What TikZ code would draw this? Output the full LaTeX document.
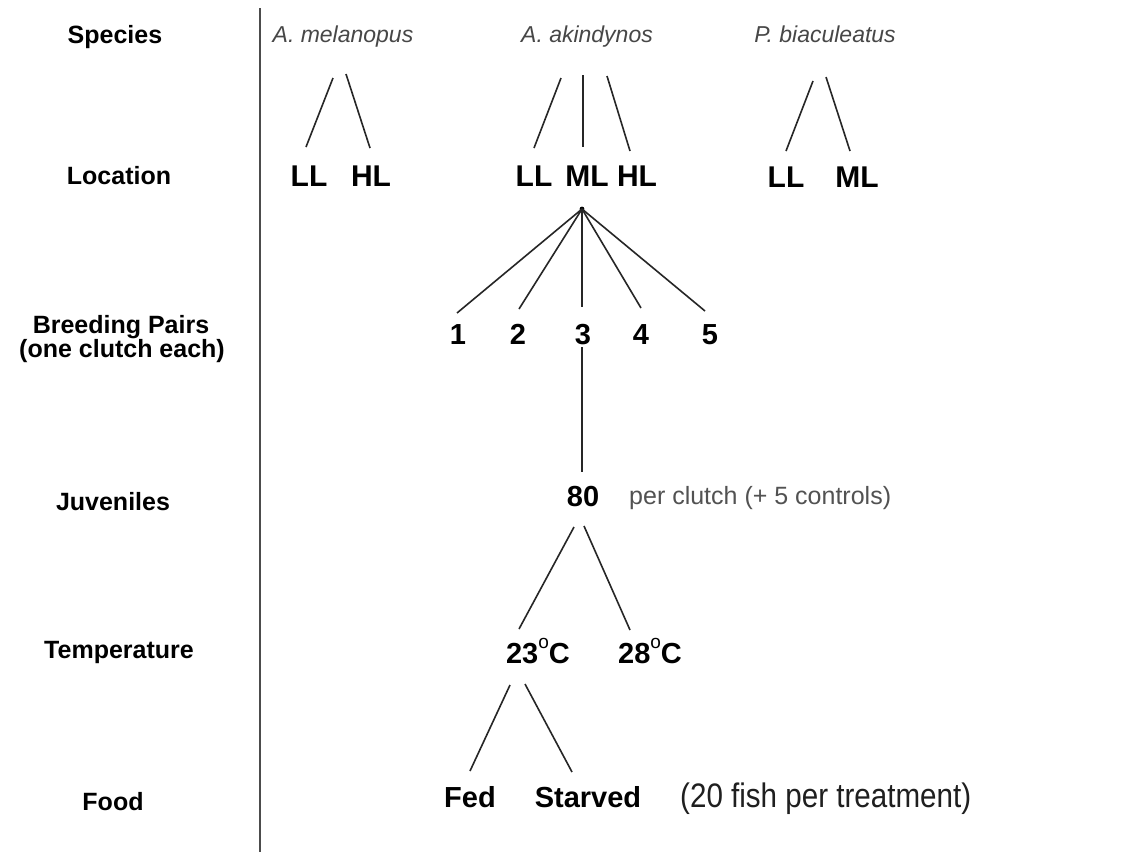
\documentclass[tikz,border=0pt]{standalone}
\usepackage{fontspec}
\setmainfont{Liberation Sans}
\newfontfamily\narrowfont[FakeStretch=0.87]{Liberation Sans}
\newcommand{\degring}{\raisebox{15pt}{\fontsize{19}{19}\selectfont\mdseries o}}
\begin{document}
\begin{tikzpicture}[x=1pt,y=-1pt,
  lab/.style={font=\bfseries\fontsize{25}{29}\selectfont, anchor=base, inner sep=0pt},
  sp/.style={font=\itshape\fontsize{23}{27}\selectfont, text=black!72, anchor=base, inner sep=0pt},
  loc/.style={font=\bfseries\fontsize{30}{34}\selectfont, anchor=base, inner sep=0pt},
  val/.style={font=\bfseries\fontsize{29}{33}\selectfont, anchor=base, inner sep=0pt},
  note/.style={font=\fontsize{25}{29}\selectfont, text=black!68, anchor=base west, inner sep=0pt},
  br/.style={line width=1.6pt, draw=black!85},
  divider/.style={line width=1.7pt, draw=black!70}]
\useasboundingbox[fill=white] (0,0) rectangle (1123,852);

% divider
\coordinate (vtop) at (260,8);
\coordinate (vbot) at (260,852);
\draw[divider] (vtop) -- (vbot);

% row headings
\node[lab] (hSp)   at (115,43)  {Species};
\node[lab] (hLoc)  at (119,184) {Location};
\node[lab] (hBP)   at (121,333) {Breeding Pairs};
\node[lab] (hBP2)  at (122,357) {(one clutch each)};
\node[lab] (hJuv)  at (113,510) {Juveniles};
\node[lab] (hTemp) at (119,658) {Temperature};
\node[lab] (hFood) at (113,810) {Food};

% species
\node[sp] (melan) at (343,42) {A. melanopus};
\node[sp] (akin)  at (587,42) {A. akindynos};
\node[sp] (biac)  at (825,42) {P. biaculeatus};

% locations
\node[loc] (mLL) at (309,186) {LL};
\node[loc] (mHL) at (371,186) {HL};
\node[loc] (aLL) at (534,186) {LL};
\node[loc] (aML) at (587,186) {ML};
\node[loc] (aHL) at (637,186) {HL};
\node[loc] (bLL) at (786,187) {LL};
\node[loc] (bML) at (857,187) {ML};

\coordinate (m1t) at (333,78);  \coordinate (m1b) at (306,147);
\coordinate (m2t) at (346,74);  \coordinate (m2b) at (370,148);
\coordinate (a1t) at (561,78);  \coordinate (a1b) at (534,148);
\coordinate (a2t) at (583,75);  \coordinate (a2b) at (583,147);
\coordinate (a3t) at (607,76);  \coordinate (a3b) at (630,151);
\coordinate (b1t) at (813,81);  \coordinate (b1b) at (786,151);
\coordinate (b2t) at (826,77);  \coordinate (b2b) at (850,151);
\draw[br] (m1t) -- (m1b);
\draw[br] (m2t) -- (m2b);
\draw[br] (a1t) -- (a1b);
\draw[br] (a2t) -- (a2b);
\draw[br] (a3t) -- (a3b);
\draw[br] (b1t) -- (b1b);
\draw[br] (b2t) -- (b2b);

% breeding pairs
\coordinate (apex) at (582,209);
\fill[black] (apex) circle (2.4);
\node[val] (n1) at (458,344) {1};
\node[val] (n2) at (518,344) {2};
\node[val] (n3) at (583,344) {3};
\node[val] (n4) at (641,344) {4};
\node[val] (n5) at (710,344) {5};
\coordinate (e1) at (457,313);
\coordinate (e2) at (519,309);
\coordinate (e3) at (582,307);
\coordinate (e4) at (641,308);
\coordinate (e5) at (705,311);
\foreach \e in {e1,e2,e3,e4,e5} \draw[br] (apex) -- (\e);

% juveniles
\coordinate (j1t) at (582,347);
\coordinate (j1b) at (582,472);
\draw[br] (j1t) -- (j1b);
\node[val] (eighty) at (583,506) {80};
\node[note] (perclutch) at (629,504) {per clutch (+ 5 controls)};

% temperature
\coordinate (t1t) at (574,527); \coordinate (t1b) at (519,629);
\coordinate (t2t) at (584,526); \coordinate (t2b) at (630,630);
\draw[br] (t1t) -- (t1b);
\draw[br] (t2t) -- (t2b);
\node[val] (t23) at (538,663) {23\degring C};
\node[val] (t28) at (650,663) {28\degring C};

% food
\coordinate (f1t) at (510,685); \coordinate (f1b) at (470,771);
\coordinate (f2t) at (525,684); \coordinate (f2b) at (572,772);
\draw[br] (f1t) -- (f1b);
\draw[br] (f2t) -- (f2b);
\node[val] (fed) at (470,807) {Fed};
\node[val] (starved) at (588,807) {Starved};
\node[anchor=base west, inner sep=0pt, font=\narrowfont\fontsize{34}{38}\selectfont, text=black!88] (fish) at (680,807) {(20 fish per treatment)};
\end{tikzpicture}
\end{document}
